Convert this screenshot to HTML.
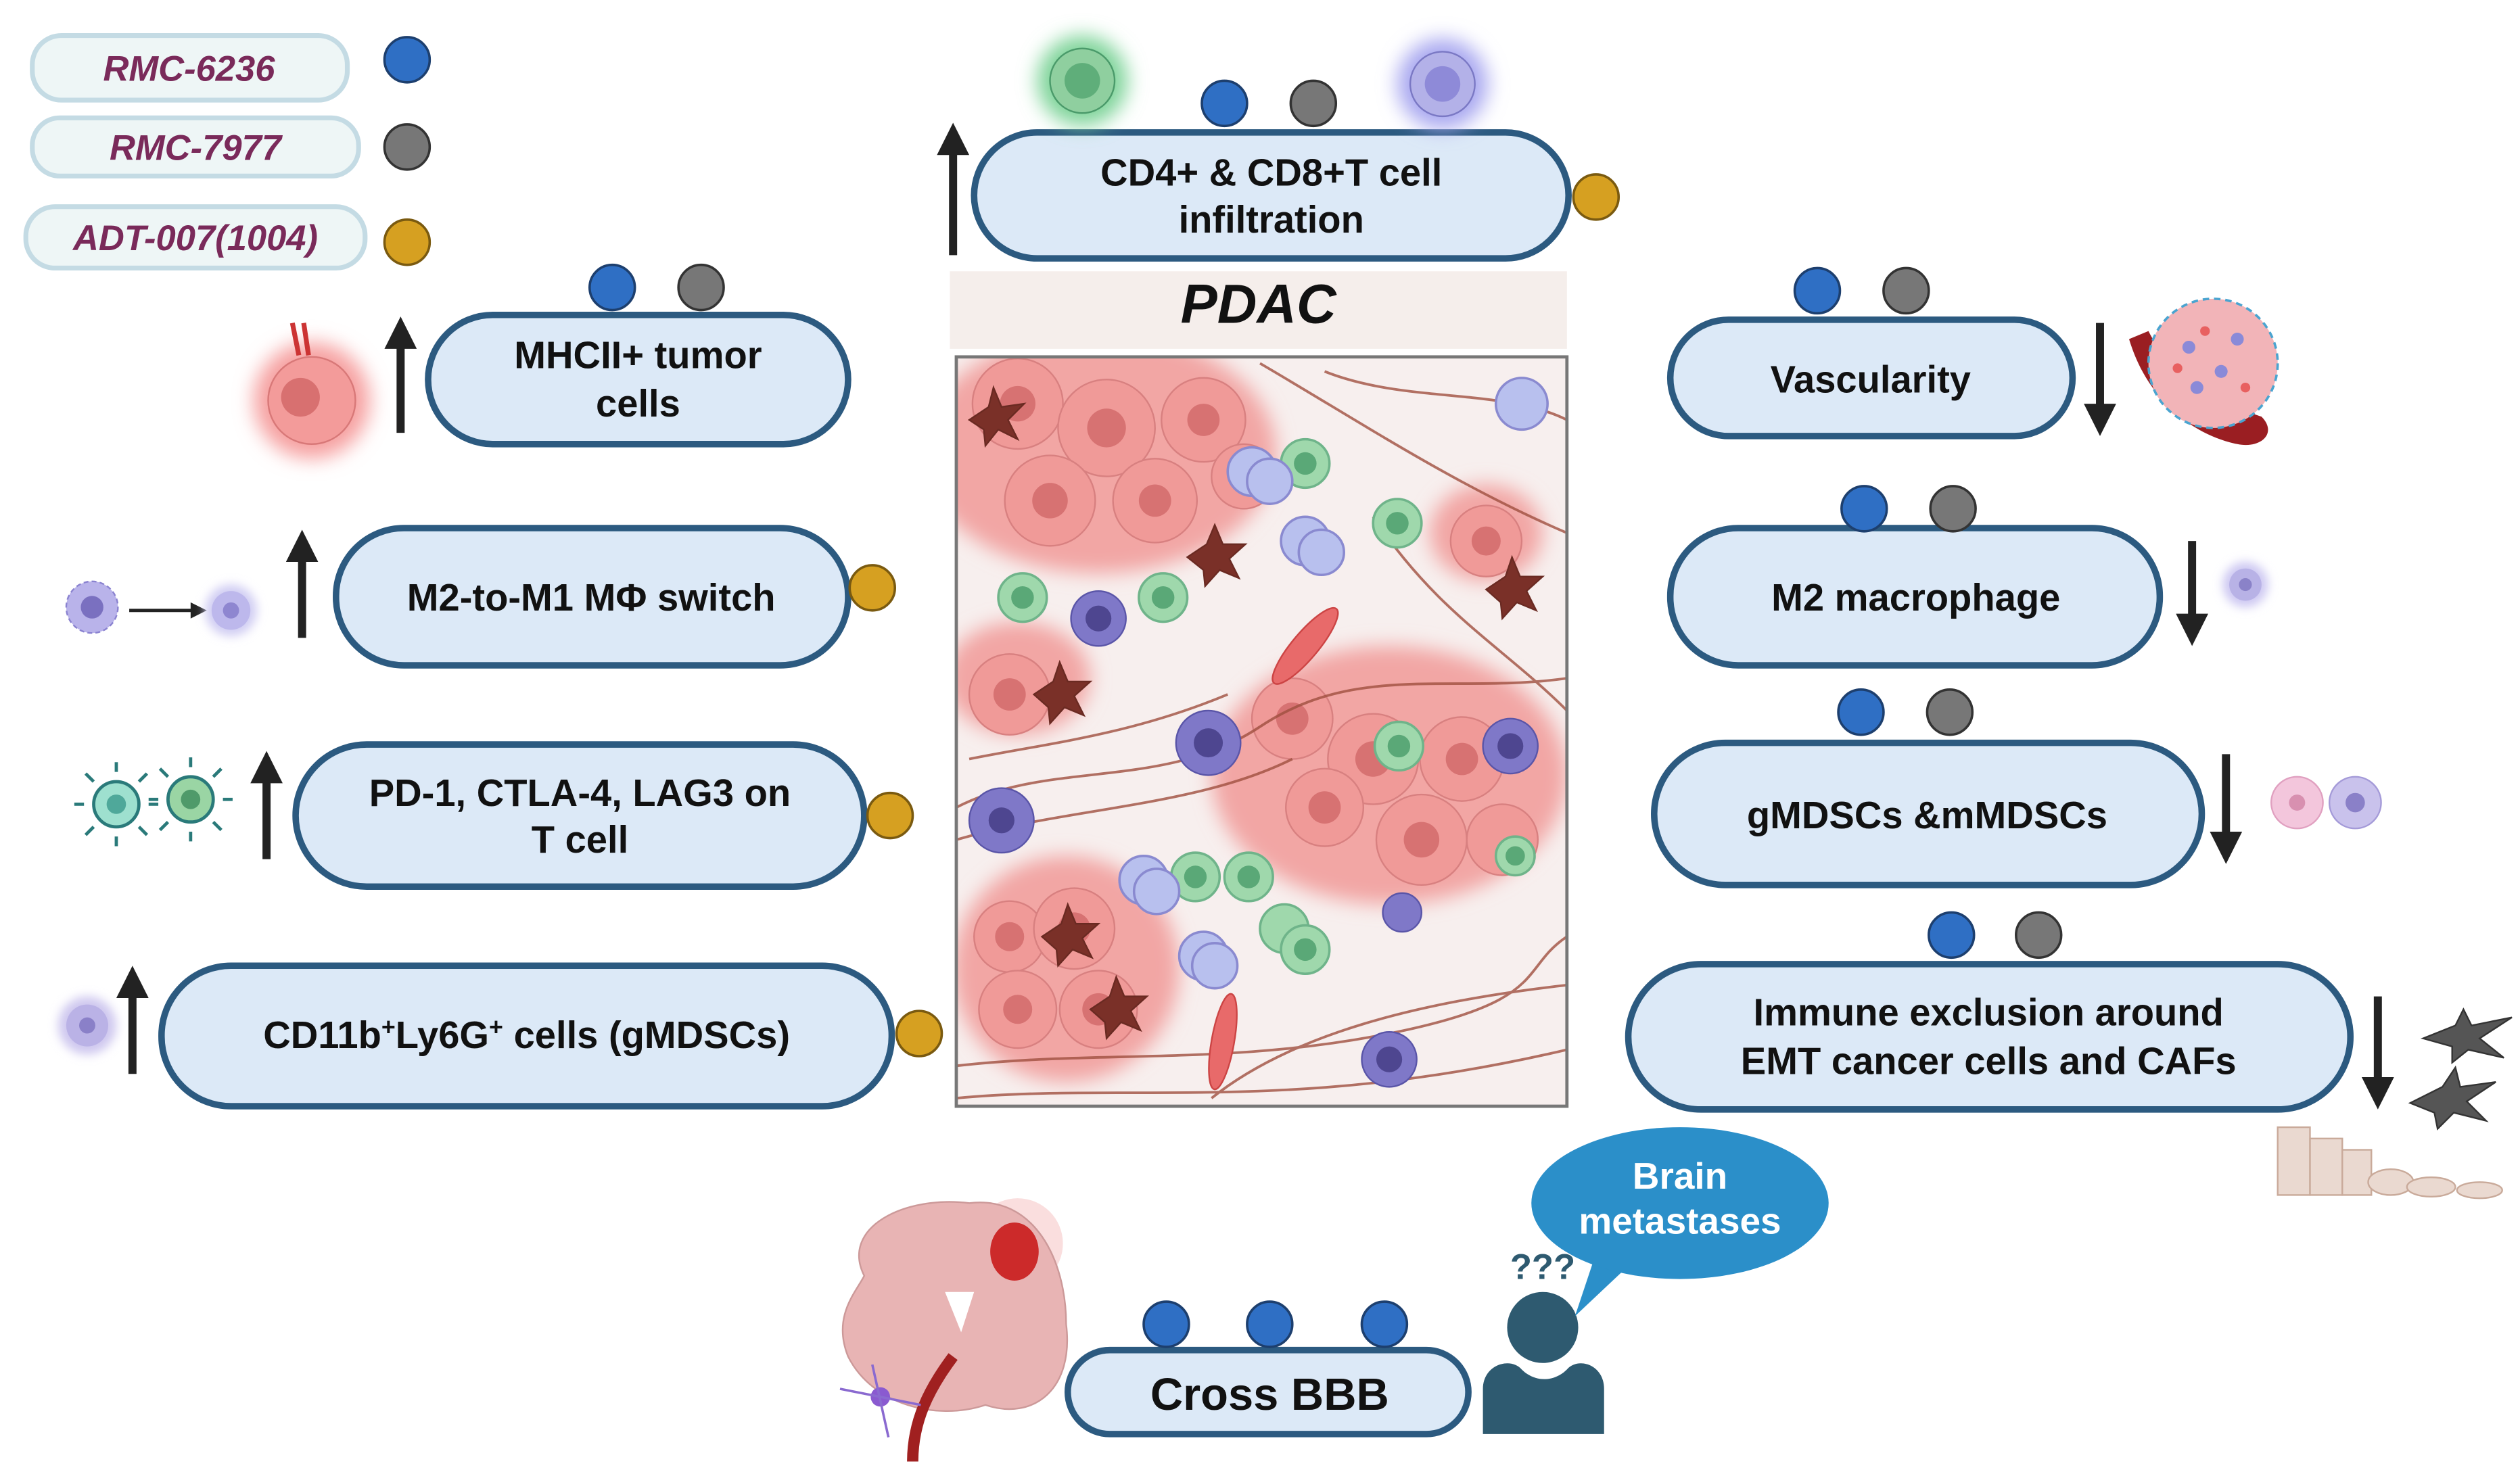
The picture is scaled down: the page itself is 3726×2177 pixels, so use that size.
<!DOCTYPE html>
<html><head><meta charset="utf-8"><style>
html,body{margin:0;padding:0;background:#fff;}
svg{display:block;}
text{font-family:"Liberation Sans",sans-serif;}
</style></head><body>
<svg width="3726" height="2177" viewBox="0 0 1560 911.5" preserveAspectRatio="none" xmlns="http://www.w3.org/2000/svg">
<defs>
<filter id="blur" x="-50%" y="-50%" width="200%" height="200%"><feGaussianBlur stdDeviation="6"/></filter>
<filter id="blur2" x="-50%" y="-50%" width="200%" height="200%"><feGaussianBlur stdDeviation="3"/></filter>
<marker id="ah" markerWidth="4" markerHeight="4" refX="2" refY="2" orient="auto"><path d="M0,0 L4,2 L0,4 Z" fill="#222"/></marker>
<clipPath id="pc"><rect x="592" y="221" width="378" height="464"/></clipPath>
</defs>

<!-- Legend -->
<g font-weight="bold" font-style="italic" font-size="22" fill="#7a2a5a" text-anchor="middle">
<rect x="20" y="22" width="195" height="40" rx="18" fill="#eef6f6" stroke="#c4dbe4" stroke-width="3"/>
<text x="117" y="50">RMC-6236</text>
<rect x="20" y="73" width="202" height="36" rx="17" fill="#eef6f6" stroke="#c4dbe4" stroke-width="3"/>
<text x="121" y="99">RMC-7977</text>
<rect x="16" y="128" width="210" height="38" rx="18" fill="#eef6f6" stroke="#c4dbe4" stroke-width="3"/>
<text x="121" y="155">ADT-007(1004)</text>
</g>

<!-- pills -->
<g fill="#dce9f7" stroke="#2c5a80" stroke-width="4">
<rect x="603" y="82" width="368" height="78" rx="39"/>
<rect x="265" y="195" width="260" height="80" rx="40"/>
<rect x="208" y="327" width="317" height="85" rx="42"/>
<rect x="183" y="461" width="352" height="88" rx="44"/>
<rect x="100" y="598" width="452" height="87" rx="43"/>
<rect x="1034" y="198" width="249" height="72" rx="36"/>
<rect x="1034" y="327" width="303" height="85" rx="42"/>
<rect x="1024" y="460" width="339" height="88" rx="44"/>
<rect x="1008" y="597" width="447" height="90" rx="45"/>
<rect x="661" y="836" width="248" height="52" rx="26"/>
</g>
<g font-weight="bold" font-size="23.5" fill="#111" text-anchor="middle">
<text x="787" y="115">CD4+ &amp; CD8+T cell</text><text x="787" y="144">infiltration</text>
<text x="395" y="228">MHCII+ tumor</text><text x="395" y="258">cells</text>
<text x="366" y="378">M2-to-M1 MΦ switch</text>
<text x="359" y="499">PD-1, CTLA-4, LAG3 on</text><text x="359" y="528">T cell</text>
<text x="326" y="649">CD11b<tspan font-size="15" dy="-8">+</tspan><tspan dy="8">Ly6G</tspan><tspan font-size="15" dy="-8">+</tspan><tspan dy="8"> cells (gMDSCs)</tspan></text>
<text x="1158" y="243">Vascularity</text>
<text x="1186" y="378">M2 macrophage</text>
<text x="1193" y="513">gMDSCs &amp;mMDSCs</text>
<text x="1231" y="635">Immune exclusion around</text><text x="1231" y="665">EMT cancer cells and CAFs</text>
<text x="786" y="873" font-size="28">Cross BBB</text>
</g>

<!-- drug dots -->
<g stroke-width="1.5">
<g fill="#2f6fc4" stroke="#1d3f6e">
<circle cx="252" cy="37" r="14"/><circle cx="758" cy="64" r="14"/><circle cx="379" cy="178" r="14"/>
<circle cx="1125" cy="180" r="14"/><circle cx="1154" cy="315" r="14"/><circle cx="1152" cy="441" r="14"/><circle cx="1208" cy="579" r="14"/>
<circle cx="722" cy="820" r="14"/><circle cx="786" cy="820" r="14"/><circle cx="857" cy="820" r="14"/>
</g>
<g fill="#777" stroke="#333">
<circle cx="252" cy="91" r="14"/><circle cx="813" cy="64" r="14"/><circle cx="434" cy="178" r="14"/>
<circle cx="1180" cy="180" r="14"/><circle cx="1209" cy="315" r="14"/><circle cx="1207" cy="441" r="14"/><circle cx="1262" cy="579" r="14"/>
</g>
<g fill="#d6a021" stroke="#7a5a10">
<circle cx="252" cy="150" r="14"/><circle cx="988" cy="122" r="14"/><circle cx="540" cy="364" r="14"/>
<circle cx="551" cy="505" r="14"/><circle cx="569" cy="640" r="14"/>
</g>
</g>

<!-- arrows -->
<g stroke="#222" stroke-width="5" marker-end="url(#ah)">
<line x1="590" y1="158" x2="590" y2="86"/>
<line x1="248" y1="268" x2="248" y2="206"/>
<line x1="187" y1="395" x2="187" y2="338"/>
<line x1="165" y1="532" x2="165" y2="475"/>
<line x1="82" y1="665" x2="82" y2="608"/>
<line x1="1300" y1="200" x2="1300" y2="260"/>
<line x1="1357" y1="335" x2="1357" y2="390"/>
<line x1="1378" y1="467" x2="1378" y2="525"/>
<line x1="1472" y1="617" x2="1472" y2="677"/>
</g>
<line x1="80" y1="378" x2="120" y2="378" stroke="#222" stroke-width="2"/>
<path d="M118,373 L128,378 L118,383Z" fill="#222"/>

<!-- small cell icons -->
<circle cx="670" cy="50" r="28" fill="#7fd49a" filter="url(#blur)"/>
<circle cx="670" cy="50" r="20" fill="#8fcf9f" stroke="#4a9a6a"/><circle cx="670" cy="50" r="11" fill="#5fae7a"/>
<circle cx="893" cy="52" r="28" fill="#a9a8f0" filter="url(#blur)"/>
<circle cx="893" cy="52" r="20" fill="#b3b1e8" stroke="#7a78c4"/><circle cx="893" cy="52" r="11" fill="#8e8ad8"/>
<circle cx="193" cy="248" r="36" fill="#f6a0a0" filter="url(#blur)"/>
<circle cx="193" cy="248" r="27" fill="#f39b9a" stroke="#d87878"/><circle cx="186" cy="246" r="12" fill="#d87070"/>
<path d="M181,200 l4,20 M188,200 l3,20" stroke="#c33" stroke-width="3"/>
<circle cx="57" cy="376" r="16" fill="#b9b3ea" stroke="#8a82d0" stroke-dasharray="3 2"/><circle cx="57" cy="376" r="7" fill="#7a70c0"/>
<circle cx="143" cy="378" r="16" fill="#d0cdf3" filter="url(#blur2)"/><circle cx="143" cy="378" r="12" fill="#bdb8ec"/><circle cx="143" cy="378" r="5" fill="#8e86d0"/>
<g stroke="#2a7a7a" stroke-width="2">
<circle cx="72" cy="498" r="14" fill="#9ee0cf"/><circle cx="118" cy="495" r="14" fill="#9ad5a4"/>
<path d="M72,478 v-6 M72,518 v6 M52,498 h-6 M92,498 h6 M58,484 l-5,-5 M86,512 l5,5 M58,512 l-5,5 M86,484 l5,-5"/>
<path d="M118,475 v-6 M118,515 v6 M98,495 h-6 M138,495 h6 M104,481 l-5,-5 M132,509 l5,5 M104,509 l-5,5 M132,481 l5,-5"/>
</g>
<circle cx="72" cy="498" r="6" fill="#4fa89a"/><circle cx="118" cy="495" r="6" fill="#4f9a6a"/>
<circle cx="54" cy="635" r="18" fill="#cfc8ef" filter="url(#blur2)"/><circle cx="54" cy="635" r="13" fill="#bab2e6"/><circle cx="54" cy="635" r="5" fill="#8a80c8"/>
<circle cx="1390" cy="362" r="14" fill="#cdc8f2" filter="url(#blur2)"/><circle cx="1390" cy="362" r="10" fill="#b8b2e6"/><circle cx="1390" cy="362" r="4" fill="#8a82c8"/>
<circle cx="1422" cy="497" r="16" fill="#f3c6dc" stroke="#e0a0c0"/><circle cx="1458" cy="497" r="16" fill="#c9c2ec" stroke="#a49ad8"/>
<circle cx="1422" cy="497" r="5" fill="#d890b0"/><circle cx="1458" cy="497" r="6" fill="#8a80c8"/>
<!-- vessel -->
<path d="M1318,210 C1330,250 1360,270 1385,275 C1400,278 1410,268 1400,258 C1375,250 1345,235 1330,205Z" fill="#9a1e22"/>
<circle cx="1370" cy="225" r="40" fill="#f2b4b8" stroke="#4aa4d0" stroke-width="1.5" stroke-dasharray="4 3"/>
<g fill="#8a8ad8"><circle cx="1355" cy="215" r="4"/><circle cx="1375" cy="230" r="4"/><circle cx="1385" cy="210" r="4"/><circle cx="1360" cy="240" r="4"/></g>
<g fill="#e86060"><circle cx="1365" cy="205" r="3"/><circle cx="1390" cy="240" r="3"/><circle cx="1348" cy="228" r="3"/></g>
<!-- CAFs -->
<g fill="#555" stroke="#333">
<path d="M1500,643 l20,-8 l5,-10 l5,10 l25,-5 l-20,13 l15,12 l-22,-5 l-10,8 l0,-10 z"/>
<path d="M1492,683 l20,-10 l8,-12 l3,12 l22,-3 l-18,12 l12,12 l-20,-5 l-10,10 l-2,-10 z"/>
</g>
<g fill="#ead9d0" stroke="#c9aa9a">
<rect x="1410" y="698" width="20" height="42"/><rect x="1430" y="705" width="20" height="35"/><rect x="1450" y="712" width="18" height="28"/>
<ellipse cx="1480" cy="732" rx="14" ry="8"/><ellipse cx="1505" cy="735" rx="15" ry="6"/><ellipse cx="1535" cy="737" rx="14" ry="5"/>
</g>

<!-- PDAC label band & image -->
<rect x="588" y="168" width="382" height="48" fill="#f5eeeb"/>
<text x="779" y="200" font-size="34" font-weight="bold" font-style="italic" text-anchor="middle" fill="#111">PDAC</text>
<rect x="592" y="221" width="378" height="464" fill="#f7efee"/>
<g clip-path="url(#pc)">
<g filter="url(#blur)" fill="#f2a6a4">
<ellipse cx="680" cy="280" rx="110" ry="75"/><ellipse cx="630" cy="420" rx="45" ry="35"/>
<ellipse cx="860" cy="480" rx="110" ry="80"/><ellipse cx="660" cy="600" rx="70" ry="70"/><ellipse cx="920" cy="330" rx="35" ry="30"/>
</g>
<g fill="#f09a98" stroke="#d88080" stroke-width="1">
<circle cx="630" cy="250" r="28"/><circle cx="685" cy="265" r="30"/><circle cx="745" cy="260" r="26"/><circle cx="650" cy="310" r="28"/><circle cx="715" cy="310" r="26"/><circle cx="770" cy="295" r="20"/>
<circle cx="625" cy="430" r="25"/><circle cx="800" cy="445" r="25"/><circle cx="850" cy="470" r="28"/><circle cx="905" cy="470" r="26"/><circle cx="820" cy="500" r="24"/><circle cx="880" cy="520" r="28"/><circle cx="930" cy="520" r="22"/>
<circle cx="625" cy="580" r="22"/><circle cx="665" cy="575" r="25"/><circle cx="630" cy="625" r="24"/><circle cx="680" cy="625" r="24"/><circle cx="920" cy="335" r="22"/>
</g>
<g fill="#d77272">
<circle cx="630" cy="250" r="11"/><circle cx="685" cy="265" r="12"/><circle cx="745" cy="260" r="10"/><circle cx="650" cy="310" r="11"/><circle cx="715" cy="310" r="10"/>
<circle cx="625" cy="430" r="10"/><circle cx="800" cy="445" r="10"/><circle cx="850" cy="470" r="11"/><circle cx="905" cy="470" r="10"/><circle cx="820" cy="500" r="10"/><circle cx="880" cy="520" r="11"/>
<circle cx="625" cy="580" r="9"/><circle cx="665" cy="575" r="10"/><circle cx="630" cy="625" r="9"/><circle cx="680" cy="625" r="10"/><circle cx="920" cy="335" r="9"/>
</g>
<g fill="none" stroke="#a05040" stroke-width="1.6" opacity="0.8">
<path d="M592,500 C650,470 720,490 780,450 S900,430 970,420"/>
<path d="M592,520 C660,500 740,500 800,470"/>
<path d="M780,225 C840,260 900,300 970,330"/>
<path d="M820,230 C870,250 930,240 970,260"/>
<path d="M850,320 C890,380 930,400 970,440"/>
<path d="M592,660 C680,650 760,660 860,640 S940,600 970,580"/>
<path d="M592,680 C700,670 800,690 970,650"/>
<path d="M750,680 C800,640 880,620 970,610"/>
<path d="M600,470 C650,460 700,455 760,430"/>
</g>
<g stroke="#6a2a22" fill="#7a3028">
<path d="M600,260 l12,-8 l3,-12 l5,12 l14,-2 l-10,10 l6,12 l-12,-6 l-8,10 l-1,-10z"/>
<path d="M735,345 l12,-8 l5,-12 l5,12 l14,0 l-10,9 l6,12 l-12,-5 l-9,10 l-1,-10z"/>
<path d="M640,430 l12,-8 l4,-12 l5,12 l14,0 l-10,9 l6,12 l-12,-5 l-9,10 l-1,-10z"/>
<path d="M920,365 l12,-8 l4,-12 l5,12 l14,0 l-10,9 l6,12 l-12,-5 l-9,10 l-1,-10z"/>
<path d="M645,580 l12,-8 l4,-12 l5,12 l14,0 l-10,9 l6,12 l-12,-5 l-9,10 l-1,-10z"/>
<path d="M675,625 l12,-8 l4,-12 l5,12 l14,0 l-10,9 l6,12 l-12,-5 l-9,10 l-1,-10z"/>
</g>
<g stroke="#6fb48a" stroke-width="1.5" fill="#9fd8ac">
<circle cx="808" cy="287" r="15"/><circle cx="865" cy="324" r="15"/><circle cx="633" cy="370" r="15"/><circle cx="720" cy="370" r="15"/>
<circle cx="740" cy="543" r="15"/><circle cx="773" cy="543" r="15"/><circle cx="795" cy="575" r="15"/><circle cx="808" cy="588" r="15"/>
<circle cx="866" cy="462" r="15"/><circle cx="938" cy="530" r="12"/>
</g>
<g fill="#5aa877">
<circle cx="808" cy="287" r="7"/><circle cx="865" cy="324" r="7"/><circle cx="633" cy="370" r="7"/><circle cx="720" cy="370" r="7"/>
<circle cx="740" cy="543" r="7"/><circle cx="773" cy="543" r="7"/><circle cx="808" cy="588" r="7"/><circle cx="866" cy="462" r="7"/><circle cx="938" cy="530" r="6"/>
</g>
<g stroke="#8a8ad0" stroke-width="1.5" fill="#b8c0ee">
<circle cx="775" cy="292" r="15"/><circle cx="786" cy="298" r="14"/><circle cx="808" cy="335" r="15"/><circle cx="818" cy="342" r="14"/>
<circle cx="708" cy="545" r="15"/><circle cx="716" cy="552" r="14"/><circle cx="745" cy="592" r="15"/><circle cx="752" cy="598" r="14"/>
<circle cx="942" cy="250" r="16"/>
</g>
<g fill="#7f78c8" stroke="#5a55a8">
<circle cx="680" cy="383" r="17"/><circle cx="748" cy="460" r="20"/><circle cx="620" cy="508" r="20"/><circle cx="935" cy="462" r="17"/><circle cx="860" cy="656" r="17"/><circle cx="868" cy="565" r="12"/>
</g>
<g fill="#4e4690">
<circle cx="680" cy="383" r="8"/><circle cx="748" cy="460" r="9"/><circle cx="620" cy="508" r="8"/><circle cx="935" cy="462" r="8"/><circle cx="860" cy="656" r="8"/>
</g>
<ellipse cx="808" cy="400" rx="8" ry="30" transform="rotate(40 808 400)" fill="#e86a6a" stroke="#c44"/>
<ellipse cx="757" cy="645" rx="7" ry="30" transform="rotate(10 757 645)" fill="#e86a6a" stroke="#c44"/>
</g>
<rect x="592" y="221" width="378" height="464" fill="none" stroke="#777" stroke-width="2"/>

<!-- brain -->
<circle cx="630" cy="770" r="28" fill="#f8d0d0" opacity="0.7"/>
<path d="M535,790 C520,760 560,740 600,745 C640,740 660,780 660,820 C665,860 640,880 610,870 C580,880 540,870 525,840 C515,815 530,800 535,790Z" fill="#e8b4b4" stroke="#c99" />
<ellipse cx="628" cy="775" rx="15" ry="18" fill="#cc2a2a"/>
<path d="M585,800 l10,25 l8,-25z" fill="#fff"/>
<path d="M590,840 C575,860 565,880 565,905" stroke="#a02020" stroke-width="7" fill="none"/>
<circle cx="545" cy="865" r="6" fill="#8a5ad0"/>
<path d="M520,860 L570,870 M540,845 L550,890" stroke="#8a6ad0" stroke-width="1.5"/>

<!-- person & speech -->
<circle cx="955" cy="822" r="22" fill="#2e5a70"/>
<path d="M918,888 L918,860 C918,845 935,840 942,848 C950,856 962,856 970,848 C977,840 993,845 993,860 L993,888Z" fill="#2e5a70"/>
<path d="M990,770 L975,815 L1010,782Z" fill="#2b8fc9"/>
<ellipse cx="1040" cy="745" rx="92" ry="47" fill="#2b8fc9"/>
<g fill="#fff" font-weight="bold" font-size="23" text-anchor="middle"><text x="1040" y="736">Brain</text><text x="1040" y="764">metastases</text></g>
<text x="955" y="792" font-size="22" font-weight="bold" fill="#2e5a70" text-anchor="middle">???</text>
</svg>
</body></html>
